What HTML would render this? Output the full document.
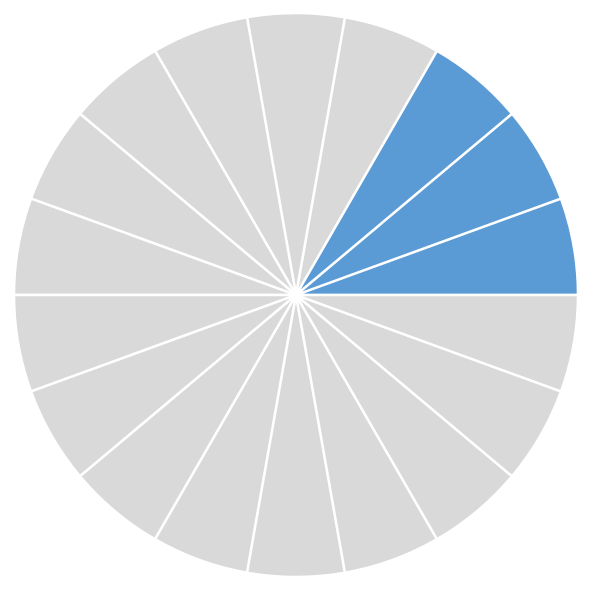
<!DOCTYPE html>
<html><head><meta charset="utf-8"><style>html,body{margin:0;padding:0;background:#fff}svg{display:block}</style></head>
<body>
<svg id="chart" width="591" height="591" viewBox="0 0 591 591"></svg>
<script>
const categories = ["s1","s2","s3","s4","s5","s6","s7","s8","s9","s10","s11","s12","s13","s14","s15","s16","s17","s18"];
const values = [1,1,1,1,1,1,1,1,1,1,1,1,1,1,1,1,1,1];
const highlighted = [1,1,1,0,0,0,0,0,0,0,0,0,0,0,0,0,0,0];
const svg = document.getElementById('chart');
const cx = 296, cy = 295, r = 282;
const total = values.reduce((a,b)=>a+b,0);
let acc = 0;
values.forEach((v,i)=>{
  const a0 = acc/total*2*Math.PI; acc += v;
  const a1 = acc/total*2*Math.PI;
  const x0 = cx + r*Math.cos(a0), y0 = cy - r*Math.sin(a0);
  const x1 = cx + r*Math.cos(a1), y1 = cy - r*Math.sin(a1);
  const large = (a1-a0) > Math.PI ? 1 : 0;
  const p = document.createElementNS('http://www.w3.org/2000/svg','path');
  p.setAttribute('d', `M${cx},${cy} L${x0},${y0} A${r},${r} 0 ${large} 0 ${x1},${y1} Z`);
  p.setAttribute('fill', highlighted[i] ? '#5b9bd5' : '#d9d9d9');
  p.setAttribute('stroke', '#fff');
  p.setAttribute('stroke-width', '2.5');
  p.setAttribute('stroke-linejoin', 'round');
  
  
  svg.appendChild(p);
});
</script>
</body></html>
